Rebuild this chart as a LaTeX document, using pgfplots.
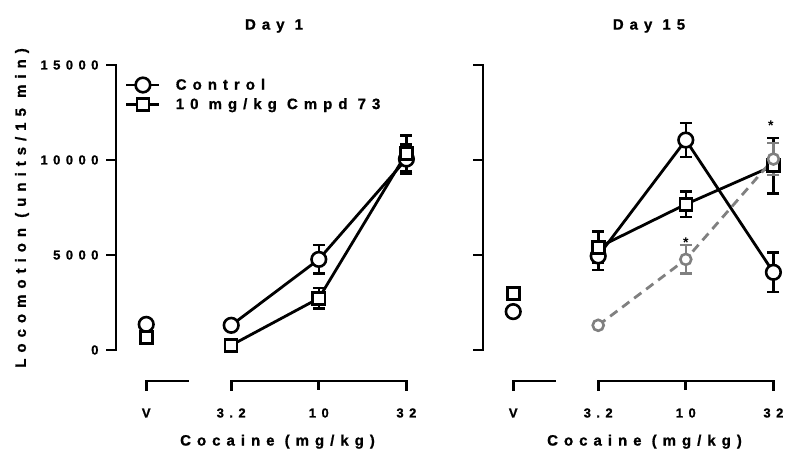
\documentclass[border=0pt]{standalone}
\usepackage{fontspec}
\setmainfont{Liberation Sans}[LetterSpace=40, FakeBold=1, UprightFont={* Bold}, BoldFont={* Bold}]
\newfontfamily\tickfont{Liberation Sans}[LetterSpace=42, FakeBold=1, UprightFont={* Bold}, BoldFont={* Bold}]
\newfontfamily\plainfont{Liberation Sans}[UprightFont={* Bold}, BoldFont={* Bold}]
\usepackage{pgfplots}
\pgfplotsset{compat=1.18}
\definecolor{ggrey}{RGB}{128,128,128}

\newcommand{\lblfont}{\fontsize{15}{17}\selectfont}
\newcommand{\tckfont}{\tickfont\fontsize{13}{15}\selectfont}

\pgfplotsset{
  panel/.style={
    scale only axis, width=290.4pt, height=285pt,
    xmin=-0.315, xmax=3, ymin=0, ymax=15000,
    clip=false,
    scaled y ticks=false,
    axis x line=bottom, axis y line=left,
    x axis line style={draw=none},
    y axis line style={-, line width=2.7pt, line cap=rect},
    xtick={0.03,1,2,3}, xticklabels={V,3.2,10,32},
    xtick style={draw=none},
    ytick={0,5000,10000,15000},
    ytick style={line width=2.7pt, black, line cap=rect},
    tick align=outside, major tick length=9pt,
    xticklabel style={font=\tckfont, anchor=center, yshift=-54pt},
    yticklabel style={font=\tckfont, anchor=east, xshift=-5pt},
    title style={font=\lblfont, anchor=center},
    xlabel style={font=\lblfont, anchor=center, at={(axis cs:1.529,-4826)}},
    ylabel style={font=\lblfont, anchor=center, at={(axis cs:-1.388,7474)}},
    every axis plot/.append style={line width=2.8pt},
  },
  ebars/.style={
    error bars/y dir=both, error bars/y explicit,
    error bars/error bar style={line width=2.6pt, solid},
    error bars/error mark options={rotate=90, mark size=6pt, line width=2.6pt, solid}},
  ctrl/.style={black, mark=*, mark size=7.3pt, mark options={fill=white, solid, line width=2.6pt}, ebars},
  cmpd/.style={black, mark=square*, mark size=6pt, mark options={fill=white, solid, line width=2.6pt}, ebars},
  prev/.style={ggrey, dashed, dash pattern=on 9pt off 6pt, mark=*, mark size=5.5pt, mark options={fill=white, solid, line width=2.6pt}, ebars},
}

\begin{document}
\begin{tikzpicture}
\useasboundingbox (0,0) rectangle (785pt,455pt);

% ---------------- Day 1 ----------------
\begin{axis}[panel, at={(116pt,105pt)}, anchor=south west,
  title={Day 1}, title style={at={(axis cs:1.489,16737)}},
  xlabel={Cocaine (mg/kg)}, ylabel={Locomotion (units/15 min)},
  yticklabels={0,5000,10000,15000},
  legend style={at={(axis cs:-0.212,13437)}, anchor=west, draw=none, fill=none,
    inner sep=0pt, outer sep=0pt, row sep=3pt, font=\lblfont, cells={anchor=west},
    /tikz/every odd column/.append style={column sep=13pt}},
  legend image code/.code={\draw[mark repeat=2,mark phase=2,#1] plot coordinates {(0pt,0pt) (16.5pt,0pt) (33pt,0pt)};},
]
\addplot[ctrl, only marks, forget plot] coordinates {(0.03,1350) +- (0,0)};
\addplot[ctrl] coordinates {(1,1300) +- (0,150) (2,4770) +- (0,750) (3,10050) +- (0,750)};
\addlegendentry{Control}
\addplot[cmpd, only marks, forget plot] coordinates {(0.03,660) +- (0,0)};
\addplot[cmpd] coordinates {(1,250) +- (0,150) (2,2720) +- (0,540) (3,10350) +- (0,950)};
\addlegendentry{10 mg/kg Cmpd 73}
\draw[line width=2.7pt, line cap=rect] ([yshift=-9pt]axis cs:0.03,-1632) -- (axis cs:0.03,-1632) -- (axis cs:0.5,-1632);
\draw[line width=2.7pt, line cap=rect] ([yshift=-9pt]axis cs:1,-1632) -- (axis cs:1,-1632) -- (axis cs:3,-1632) -- ([yshift=-9pt]axis cs:3,-1632);
\draw[line width=2.7pt] (axis cs:2,-1632) -- ([yshift=-9pt]axis cs:2,-1632);
\end{axis}

% ---------------- Day 15 ----------------
\begin{axis}[panel, at={(483pt,105pt)}, anchor=south west,
  title={Day 15}, title style={at={(axis cs:1.58,16737)}},
  xlabel={Cocaine (mg/kg)},
  yticklabels={},
]
\addplot[ctrl, only marks] coordinates {(0.03,2020) +- (0,0)};
\addplot[cmpd, only marks] coordinates {(0.03,2960) +- (0,0)};
\addplot[ctrl] coordinates {(1,4950) +- (0,740) (2,11050) +- (0,900) (3,4090) +- (0,1030)};
\addplot[cmpd] coordinates {(1,5400) +- (0,830) (2,7670) +- (0,680) (3,9700) +- (0,1450)};
\addplot[prev] coordinates {(1,1300) +- (0,0) (2,4770) +- (0,750) (3,10050) +- (0,850)};
\node[font=\plainfont\fontsize{14}{16}\selectfont] at (axis cs:2,5650) {*};
\node[font=\plainfont\fontsize{14}{16}\selectfont] at (axis cs:2.97,11780) {*};
\draw[line width=2.7pt, line cap=rect] ([yshift=-9pt]axis cs:0.03,-1632) -- (axis cs:0.03,-1632) -- (axis cs:0.5,-1632);
\draw[line width=2.7pt, line cap=rect] ([yshift=-9pt]axis cs:1,-1632) -- (axis cs:1,-1632) -- (axis cs:3,-1632) -- ([yshift=-9pt]axis cs:3,-1632);
\draw[line width=2.7pt] (axis cs:2,-1632) -- ([yshift=-9pt]axis cs:2,-1632);
\end{axis}
\end{tikzpicture}
\end{document}
